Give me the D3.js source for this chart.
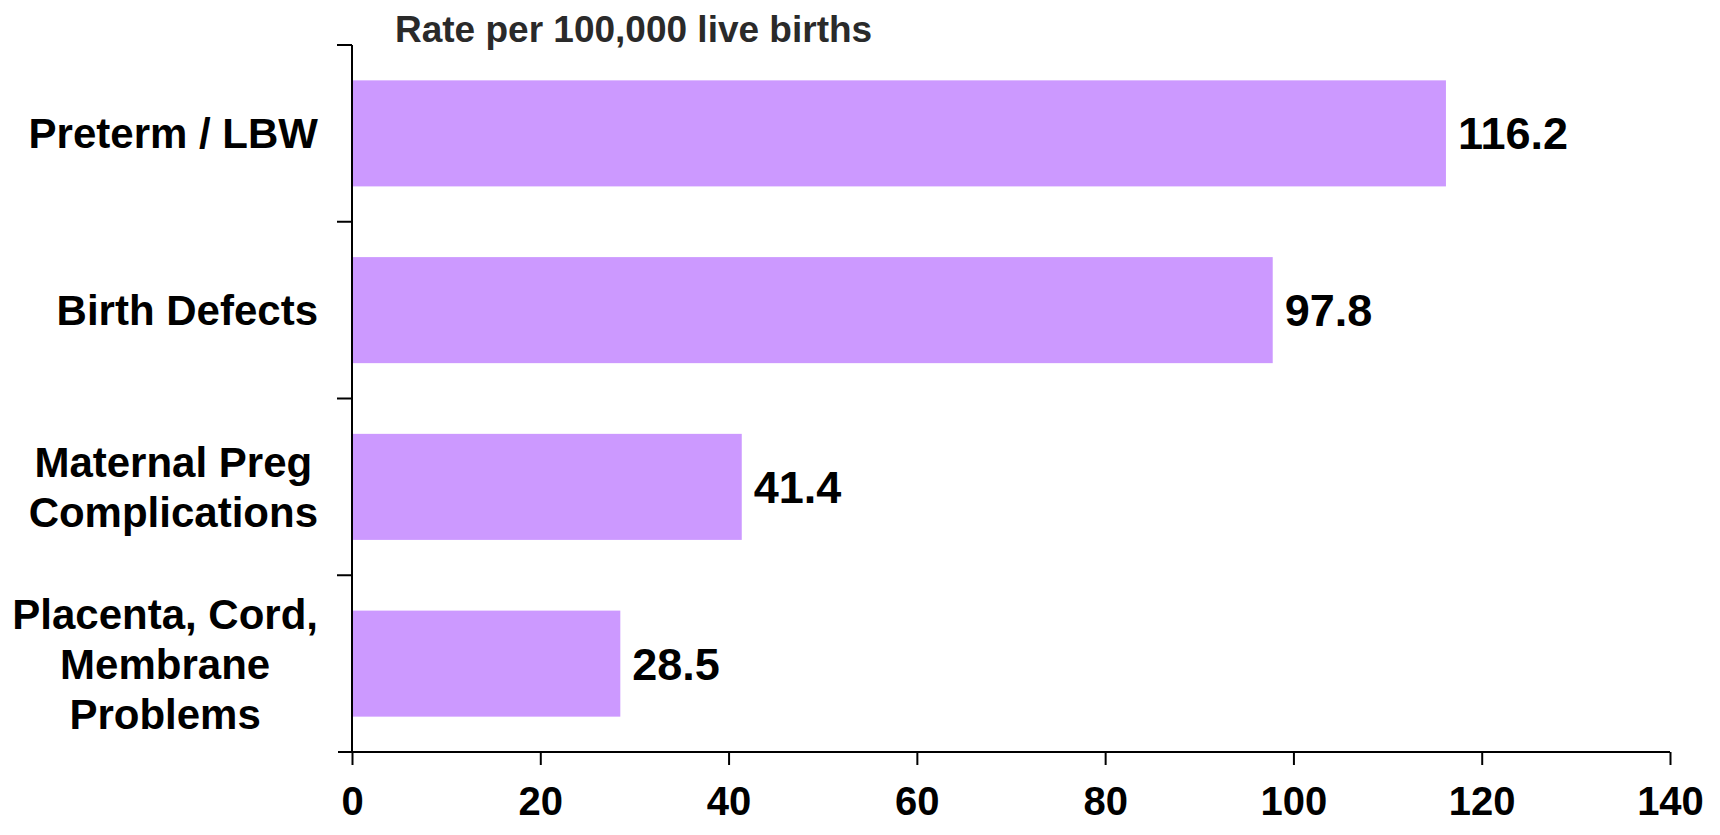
<!DOCTYPE html>
<html>
<head>
<meta charset="utf-8">
<script src="https://cdn.jsdelivr.net/npm/d3@7"></script>
<style>
  html, body { margin: 0; padding: 0; background: #fff; }
  svg { display: block; font-family: Arial, "Liberation Sans", sans-serif; font-weight: bold; }
</style>
</head>
<body>
<svg id="chart" width="1720" height="835"></svg>
<script>
// Causes of infant death, rate per 100,000 live births
const categories = [
  ["Preterm / LBW"],
  ["Birth Defects"],
  ["Maternal Preg", "Complications"],
  ["Placenta, Cord,", "Membrane", "Problems"]
];
const values = [116.2, 97.8, 41.4, 28.5];
const valueLabels = ["116.2", "97.8", "41.4", "28.5"];
const xTicks = [0, 20, 40, 60, 80, 100, 120, 140];
const axisTitle = "Rate per 100,000 live births";

const svg = d3.select("#chart");
const plotLeft = 352, plotRight = 1670, plotTop = 45, plotBottom = 752;

const x = d3.scaleLinear().domain([0, 140]).range([plotLeft, plotRight]);
const y = d3.scaleBand()
  .domain(d3.range(categories.length))
  .range([plotTop, plotBottom])
  .paddingInner(0.4)
  .paddingOuter(0.2);

// bars
svg.append("g").selectAll("rect")
  .data(values)
  .join("rect")
  .attr("x", x(0))
  .attr("y", (d, i) => y(i))
  .attr("width", d => x(d) - x(0))
  .attr("height", y.bandwidth())
  .attr("fill", "#cc99ff");

// value labels
svg.append("g").selectAll("text")
  .data(values)
  .join("text")
  .attr("x", d => x(d) + 12)
  .attr("y", (d, i) => y(i) + y.bandwidth() / 2 + 16)
  .attr("font-size", 45)
  .attr("fill", "#000")
  .text((d, i) => valueLabels[i]);

// x axis
const xAxis = d3.axisBottom(x).tickValues(xTicks).tickSize(13).tickPadding(22).tickSizeOuter(0);
const gx = svg.append("g").attr("transform", `translate(0,${plotBottom})`).call(xAxis);
gx.select(".domain").attr("stroke", "#000").attr("stroke-width", 2).attr("d", `M${plotLeft - 14},0H${plotRight}`);
gx.selectAll(".tick line").attr("stroke", "#000").attr("stroke-width", 2);
gx.selectAll(".tick text")
  .attr("font-family", "Arial, 'Liberation Sans', sans-serif")
  .attr("font-weight", "bold")
  .attr("font-size", 40)
  .attr("fill", "#000")
  .attr("dy", "0.71em");

// y axis: line with separators between categories
const boundaries = d3.range(categories.length + 1)
  .map(i => plotTop + i * ((plotBottom - plotTop) / categories.length));
svg.append("line")
  .attr("x1", plotLeft).attr("x2", plotLeft)
  .attr("y1", plotTop).attr("y2", plotBottom)
  .attr("stroke", "#000").attr("stroke-width", 2);
svg.append("g").selectAll("line")
  .data(boundaries.slice(0, -1))
  .join("line")
  .attr("x1", plotLeft - 15).attr("x2", plotLeft)
  .attr("y1", d => d).attr("y2", d => d)
  .attr("stroke", "#000").attr("stroke-width", 2);

// category labels: each block right-aligned, lines centred within it
const labelRight = 318, lineH = 50;
categories.forEach((lines, i) => {
  const g = svg.append("g");
  const cy = y(i) + y.bandwidth() / 2;
  const texts = lines.map((s, j) => g.append("text")
    .attr("font-size", 42)
    .attr("fill", "#000")
    .attr("text-anchor", "middle")
    .attr("y", cy - (lines.length - 1) * lineH / 2 + j * lineH + 15)
    .text(s));
  const w = d3.max(texts, t => t.node().getComputedTextLength());
  texts.forEach(t => t.attr("x", labelRight - w / 2));
});

// axis title
svg.append("text")
  .attr("x", 395)
  .attr("y", 42)
  .attr("font-size", 37)
  .attr("fill", "#2a2a2a")
  .text(axisTitle);
</script>
</body>
</html>
